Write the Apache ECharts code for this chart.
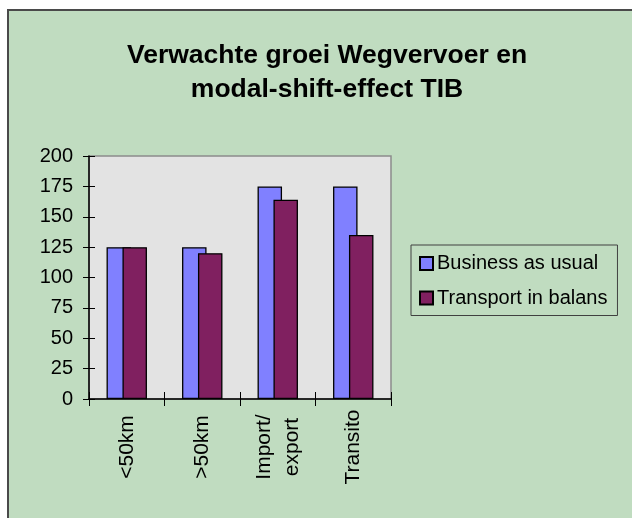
<!DOCTYPE html>
<html>
<head>
<meta charset="utf-8">
<script src="https://cdn.jsdelivr.net/npm/echarts@6/dist/echarts.min.js"></script>
<style>
  html, body { margin: 0; padding: 0; background: #fff; overflow: hidden; }
  #frame { position: absolute; left: 7px; top: 9px; width: 640px; height: 520px;
           background: #c0dcc0; border-left: 2px solid #4a4a4a; border-top: 2px solid #4a4a4a; }
  #main { position: absolute; left: 0; top: 0; width: 632px; height: 518px; }
</style>
</head>
<body>
<div id="frame"></div>
<div id="main"></div>
<script>
// gegevens uit de grafiek
var categories = ['<50km', '>50km', 'Import/\nexport', 'Transito'];
var businessAsUsual = [125, 125, 175, 175];
var transportInBalans = [125, 120, 164, 135];
var yTicks = { min: 0, max: 200, step: 25 };

var font = 'Arial, "Liberation Sans", sans-serif';

var myChart = echarts.init(document.getElementById('main'));

var option = {
    backgroundColor: 'transparent',
    animation: false,
    title: {
        text: 'Verwachte groei Wegvervoer en\nmodal-shift-effect TIB',
        left: 327,
        top: 39,
        padding: 0,
        textAlign: 'center',
        textStyle: {
            fontFamily: font,
            fontSize: 26.5,
            fontWeight: 'bold',
            color: '#000',
            lineHeight: 34
        }
    },
    legend: {
        orient: 'vertical',
        left: 411,
        top: 245,
        padding: [8, 10, 7, 8],
        itemGap: 13.5,
        itemWidth: 13,
        itemHeight: 13,
        borderColor: '#404040',
        borderWidth: 1,
        icon: 'rect',
        textStyle: { fontFamily: font, fontSize: 20, color: '#000', lineHeight: 21, padding: [0, 0, 0, -1] },
        data: ['Business as usual', 'Transport in balans']
    },
    grid: {
        left: 89,
        top: 156,
        width: 302,
        height: 243,
        show: true,
        backgroundColor: '#e3e3e3',
        borderColor: '#8c8c8c',
        borderWidth: 1.5
    },
    xAxis: [
        {
            type: 'category',
            data: categories,
            axisLine: { lineStyle: { color: '#000', width: 1.5 } },
            axisTick: { show: true, length: 7, lineStyle: { color: '#000' } },
            axisLabel: {
                interval: 0,
                rotate: 90,
                align: 'center',
                verticalAlign: 'middle',
                margin: 48,
                fontFamily: font,
                fontSize: 21,
                lineHeight: 28,
                color: '#000'
            }
        },
        {
            // alleen voor de naar binnen gerichte streepjes
            type: 'category',
            data: categories,
            position: 'bottom',
            axisLine: { show: false },
            axisTick: { show: true, inside: true, length: 7, lineStyle: { color: '#000' } },
            axisLabel: { show: false }
        }
    ],
    yAxis: [
        {
            type: 'value',
            min: yTicks.min,
            max: yTicks.max,
            interval: yTicks.step,
            splitLine: { show: false },
            axisLine: { show: true, lineStyle: { color: '#000', width: 1.5 } },
            axisTick: { show: true, length: 6, lineStyle: { color: '#000' } },
            axisLabel: { margin: 16, fontFamily: font, fontSize: 20, color: '#000' }
        },
        {
            type: 'value',
            position: 'left',
            min: yTicks.min,
            max: yTicks.max,
            interval: yTicks.step,
            splitLine: { show: false },
            axisLine: { show: false },
            axisTick: { show: true, inside: true, length: 6, lineStyle: { color: '#000' } },
            axisLabel: { show: false }
        }
    ],
    series: [
        {
            name: 'Business as usual',
            type: 'bar',
            barWidth: 24.5,
            barGap: '-35%',
            itemStyle: { color: '#8080ff', borderColor: '#000', borderWidth: 1.3 },
            data: businessAsUsual
        },
        {
            name: 'Transport in balans',
            type: 'bar',
            barWidth: 24.5,
            barGap: '-35%',
            itemStyle: { color: '#802060', borderColor: '#000', borderWidth: 1.3 },
            data: transportInBalans
        }
    ]
};

myChart.setOption(option);
</script>
</body>
</html>
